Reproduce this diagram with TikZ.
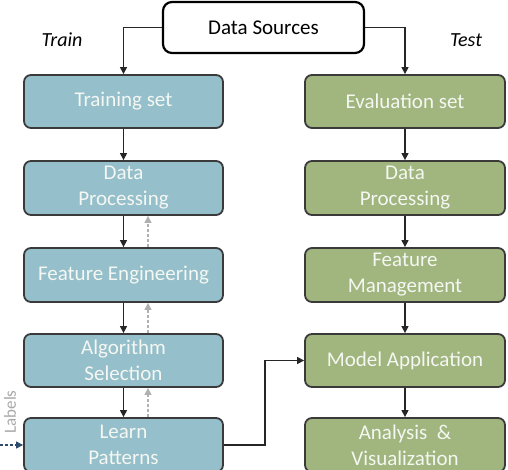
\documentclass[tikz,border=0pt]{standalone}
\usepackage{fontspec}
\setmainfont{Carlito}
\usetikzlibrary{arrows.meta}
\definecolor{boxblue}{HTML}{95BFCB}
\definecolor{boxgreen}{HTML}{A1B57E}
\definecolor{boxline}{HTML}{3A3A3A}
\definecolor{boxtext}{HTML}{F4F7F2}
\definecolor{fbgray}{HTML}{B0B0B0}
\definecolor{lblblue}{HTML}{2E4A6E}
\definecolor{lblgray}{HTML}{A8A8A8}
\tikzset{
  stagebox/.style={draw=boxline, line width=1.8pt, rounded corners=7pt,
    minimum width=199pt, minimum height=53pt, align=center, text=boxtext,
    font=\fontsize{21}{26}\selectfont, inner sep=0pt},
  trainbox/.style={stagebox, fill=boxblue},
  testbox/.style={stagebox, fill=boxgreen, minimum width=200pt},
  flow/.style={draw=black!85, line width=1.3pt, -{Triangle[length=7pt,width=7pt]}},
  feedback/.style={draw=fbgray, line width=1.3pt, dash pattern=on 3pt off 2pt, -{Triangle[length=7pt,width=7pt]}},
  sidelabel/.style={font=\itshape\fontsize{20}{24}\selectfont, text=black},
}
\begin{document}
\begin{tikzpicture}[x=1pt, y=-1pt]
\useasboundingbox (0,0) rectangle (508,470);
\node[draw=black, line width=2.2pt, rounded corners=9pt, minimum width=201pt, minimum height=51pt,
  font=\fontsize{21}{26}\selectfont, inner sep=0pt] (ds) at (263.5,27.5) {Data Sources};
\node[sidelabel] (trainlbl) at (62,40) {Train};
\node[sidelabel] (testlbl) at (466,40) {Test};

\node[trainbox] (ts) at (123.5,101.5) {Training set};
\node[trainbox, minimum height=54pt] (dpl) at (123.5,188) {Data\\Processing};
\node[trainbox, minimum height=54pt] (fe) at (123.5,275) {Feature Engineering};
\node[trainbox] (as) at (123.5,360.5) {Algorithm\\Selection};
\node[trainbox, minimum height=54pt] (lp) at (123.5,445) {Learn\\Patterns};

\node[testbox] (es) at (405,101.5) {Evaluation set};
\node[testbox, minimum height=54pt] (dpr) at (405,188) {Data\\Processing};
\node[testbox, minimum height=54pt] (fm) at (405,275) {Feature\\Management};
\node[testbox] (ma) at (405,360.5) {Model Application};
\node[testbox, minimum height=54pt] (av) at (405,445) {Analysis~~\&\\Visualization};

\draw[flow] (ds.west) -| (ts.north);
\draw[flow] (ds.east) -| (es.north);

\draw[flow] (ts.south) -- (dpl.north);
\draw[flow] (dpl.south) -- (fe.north);
\draw[flow] (fe.south) -- (as.north);
\draw[flow] (as.south) -- (lp.north);

\draw[flow] (es.south) -- (dpr.north);
\draw[flow] (dpr.south) -- (fm.north);
\draw[flow] (fm.south) -- (ma.north);
\draw[flow] (ma.south) -- (av.north);

\draw[feedback] ([xshift=24.5pt]fe.north) -- ([xshift=24.5pt]dpl.south);
\draw[feedback] ([xshift=24.5pt]as.north) -- ([xshift=24.5pt]fe.south);
\draw[feedback] ([xshift=24.5pt]lp.north) -- ([xshift=24.5pt]as.south);

\coordinate (bend) at (265,445);
\draw[flow] (lp.east) -- (bend) |- (ma.west);

\coordinate (lblstart) at (0,445);
\draw[draw=lblblue, line width=1.3pt, dash pattern=on 3pt off 2pt, -{Triangle[length=7pt,width=7pt]}] (lblstart) -- (lp.west);
\node[rotate=90, text=lblgray, font=\fontsize{17}{20}\selectfont] (labels) at (10,412) {Labels};
\end{tikzpicture}
\end{document}
